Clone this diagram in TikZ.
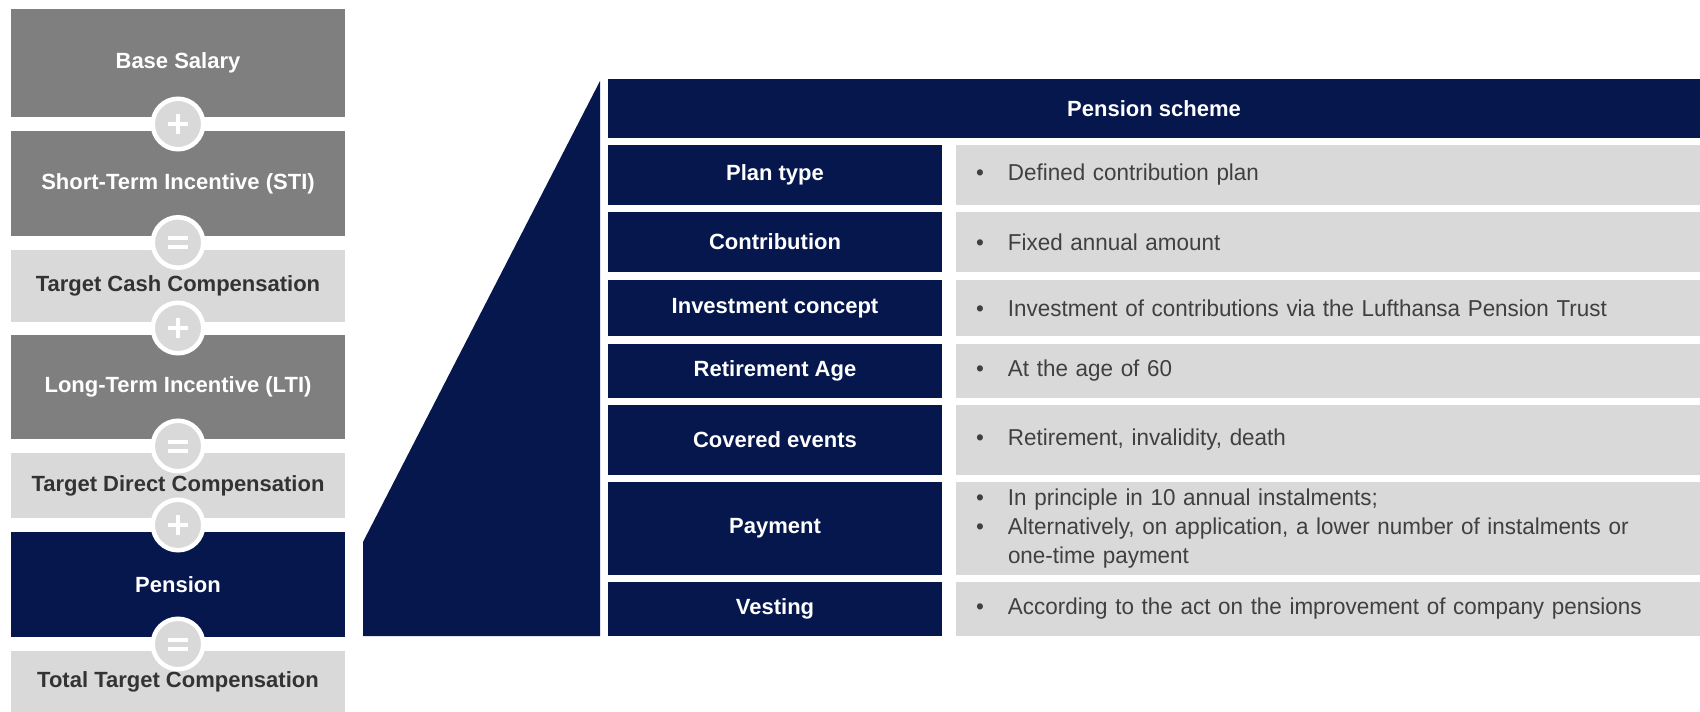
\documentclass[tikz,border=0pt]{standalone}
\usepackage{fontspec}
\setmainfont{Liberation Sans}
\newfontfamily\bodyfont{Liberation Sans}[FakeStretch=0.975]
\definecolor{navy}{HTML}{05174C}
\definecolor{midgray}{HTML}{7F7F7F}
\definecolor{lightgr}{HTML}{D9D9D9}
\definecolor{darktext}{HTML}{333333}
\definecolor{bodytext}{HTML}{404040}
\newcommand{\bul}[1]{\makebox[32pt][l]{\textbullet}#1}
\newcommand{\plussign}[1]{%
  \draw[white,line width=4pt] ([xshift=-10pt]#1.center) -- ([xshift=10pt]#1.center);
  \draw[white,line width=4pt] ([yshift=-10pt]#1.center) -- ([yshift=10pt]#1.center);}
\newcommand{\eqsign}[1]{%
  \draw[white,line width=4pt] ([xshift=-10pt,yshift=-4.5pt]#1.center) -- ([xshift=10pt,yshift=-4.5pt]#1.center);
  \draw[white,line width=4pt] ([xshift=-10pt,yshift=4.5pt]#1.center) -- ([xshift=10pt,yshift=4.5pt]#1.center);}
\tikzset{
  lbox/.style={rectangle,inner sep=0pt,minimum width=334pt,font=\bfseries\fontsize{22}{24}\selectfont},
  gbox/.style={lbox,fill=midgray,text=white},
  lgbox/.style={lbox,fill=lightgr,text=darktext},
  nbox/.style={lbox,fill=navy,text=white},
  opcircle/.style={circle,fill=lightgr,draw=white,line width=4.5pt,minimum size=50.5pt,inner sep=0pt},
  rlabel/.style={rectangle,inner sep=0pt,minimum width=334pt,fill=navy,text=white,font=\bfseries\fontsize{22}{24}\selectfont},
  rtext/.style={rectangle,inner xsep=20pt,inner ysep=0pt,minimum width=744pt,text width=704pt,align=left,fill=lightgr,text=bodytext,font=\bodyfont\fontsize{23}{29}\selectfont},
}
\begin{document}
\begin{tikzpicture}[x=1pt,y=-1pt]
\useasboundingbox (0,0) rectangle (1700,712);
% left column
\node[gbox,minimum height=108pt] (base) at (178,63) {Base Salary};
\node[gbox,minimum height=105pt] (sti) at (178,183.5) {Short-Term Incentive (STI)};
\node[lgbox,minimum height=72pt] (tcc) at (178,286) {Target Cash Compensation};
\node[gbox,minimum height=104pt] (lti) at (178,387) {Long-Term Incentive (LTI)};
\node[lgbox,minimum height=65pt] (tdc) at (178,485.5) {Target Direct Compensation};
\node[nbox,minimum height=105pt] (pen) at (178,584.5) {Pension};
\node[lgbox,minimum height=61pt] (ttc) at (178,681.5) {Total Target Compensation};
% operators
\node[opcircle] (c1) at (178,124) {};
\node[opcircle] (c2) at (178,242.5) {};
\node[opcircle] (c3) at (178,328) {};
\node[opcircle] (c4) at (178,446) {};
\node[opcircle] (c5) at (178,525) {};
\node[opcircle] (c6) at (178,644) {};
\plussign{c1}
\eqsign{c2}
\plussign{c3}
\eqsign{c4}
\plussign{c5}
\eqsign{c6}
% trapezoid
\fill[navy] (600,81) -- (600,636) -- (363,636) -- (363,542) -- cycle;
% header
\node[rectangle,inner sep=0pt,minimum width=1092pt,minimum height=59pt,fill=navy,text=white,font=\bfseries\fontsize{22}{24}\selectfont] (head) at (1154,108.5) {Pension scheme};
% rows
\node[rlabel,minimum height=60pt] (l1) at (775,175) {Plan type};
\node[rtext,minimum height=60pt] (t1) at (1328,175) {\bul{Defined contribution plan}};
\node[rlabel,minimum height=60pt] (l2) at (775,242) {Contribution};
\node[rtext,minimum height=60pt] (t2) at (1328,242) {\bul{Fixed annual amount}};
\node[rlabel,minimum height=56pt] (l3) at (775,308) {Investment concept};
\node[rtext,minimum height=56pt] (t3) at (1328,308) {\bul{Investment of contributions via the Lufthansa Pension Trust}};
\node[rlabel,minimum height=54pt] (l4) at (775,371) {Retirement Age};
\node[rtext,minimum height=54pt] (t4) at (1328,371) {\bul{At the age of 60}};
\node[rlabel,minimum height=70pt] (l5) at (775,440) {Covered events};
\node[rtext,minimum height=70pt] (t5) at (1328,440) {\bul{Retirement, invalidity, death}};
\node[rlabel,minimum height=93pt] (l6) at (775,528.5) {Payment};
\node[rtext,minimum height=93pt] (t6) at (1328,528.5) {\bul{In principle in 10 annual instalments;}\\\bul{Alternatively, on application, a lower number of instalments or}\\\hspace*{32pt}one-time payment};
\node[rlabel,minimum height=54pt] (l7) at (775,609) {Vesting};
\node[rtext,minimum height=54pt] (t7) at (1328,609) {\bul{According to the act on the improvement of company pensions}};
\end{tikzpicture}
\end{document}
